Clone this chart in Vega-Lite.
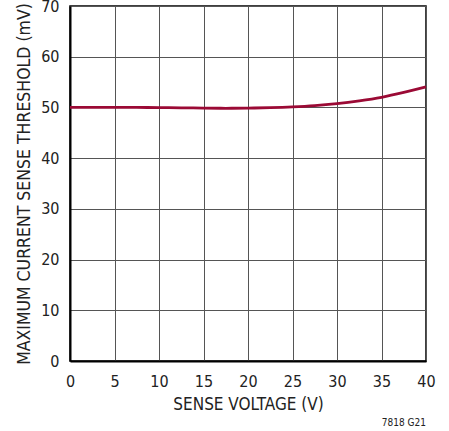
{
  "$schema": "https://vega.github.io/schema/vega-lite/v6.json",
  "width": 356,
  "height": 355,
  "autosize": "none",
  "padding": {"left": 70, "top": 6, "right": 23, "bottom": 70},
  "background": "white",
  "config": {
    "font": "DejaVu Sans Condensed, Liberation Sans, sans-serif",
    "view": {"stroke": "black", "strokeWidth": 1.5},
    "axis": {
      "grid": true,
      "gridColor": "#555",
      "gridWidth": 1,
      "gridOpacity": 1,
      "domainColor": "black",
      "domainWidth": 2,
      "ticks": false,
      "labelFont": "DejaVu Sans Condensed, Liberation Sans, sans-serif",
      "labelFontSize": 16,
      "labelColor": "#222",
      "titleFont": "DejaVu Sans Condensed, Liberation Sans, sans-serif",
      "titleFontSize": 17,
      "titleFontWeight": "normal",
      "titleColor": "#222"
    }
  },
  "data": {
    "values": [
      {"v": 0, "t": 50.0},
      {"v": 2.5, "t": 50.02},
      {"v": 5, "t": 50.03},
      {"v": 7.5, "t": 50.0},
      {"v": 10, "t": 49.97},
      {"v": 12.5, "t": 49.92},
      {"v": 15, "t": 49.87},
      {"v": 17.5, "t": 49.83},
      {"v": 20, "t": 49.87},
      {"v": 22.5, "t": 49.95},
      {"v": 25, "t": 50.1},
      {"v": 27.5, "t": 50.35},
      {"v": 30, "t": 50.75},
      {"v": 32.5, "t": 51.3},
      {"v": 35, "t": 52.0},
      {"v": 37.5, "t": 52.95},
      {"v": 40, "t": 54.05}
    ]
  },
  "layer": [
    {
      "mark": {"type": "line", "color": "#9b0a35", "strokeWidth": 2.8, "interpolate": "monotone"},
      "encoding": {
        "x": {
          "field": "v",
          "type": "quantitative",
          "scale": {"domain": [0, 40], "nice": false},
          "axis": {"values": [0, 5, 10, 15, 20, 25, 30, 35, 40], "title": "SENSE VOLTAGE (V)", "labelPadding": 12, "titlePadding": 7, "labelFlush": false}
        },
        "y": {
          "field": "t",
          "type": "quantitative",
          "scale": {"domain": [0, 70], "nice": false},
          "axis": {"values": [0, 10, 20, 30, 40, 50, 60, 70], "title": "MAXIMUM CURRENT SENSE THRESHOLD (mV)", "titleFontSize": 17.5, "labelPadding": 11, "titlePadding": 7, "labelFlush": false}
        }
      }
    },
    {
      "data": {"values": [{"note": "7818 G21", "v": 40, "t": 0}]},
      "mark": {"type": "text", "align": "right", "baseline": "bottom", "dy": 67, "fontSize": 10, "font": "DejaVu Sans Condensed, Liberation Sans, sans-serif", "color": "#222"},
      "encoding": {
        "x": {"field": "v", "type": "quantitative"},
        "y": {"field": "t", "type": "quantitative"},
        "text": {"field": "note"}
      }
    }
  ]
}
